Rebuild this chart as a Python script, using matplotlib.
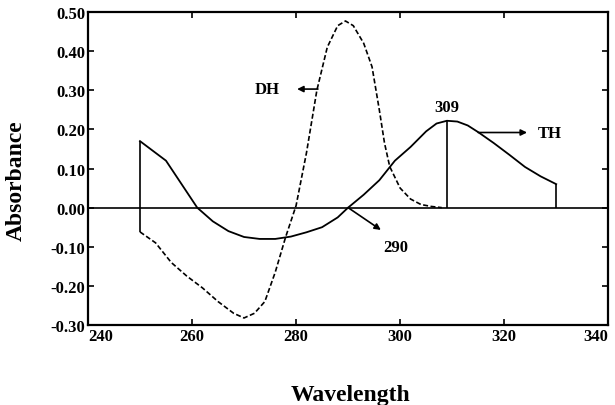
import matplotlib
matplotlib.use("Agg")
import matplotlib.pyplot as plt

plt.rcParams['font.family'] = ['Liberation Serif', 'DejaVu Serif']
plt.rcParams['font.weight'] = 'bold'

# TH curve (solid)
th_wl = [250, 252, 255, 258, 261, 264, 267, 270, 273, 276, 279, 282, 285, 288, 290,
         293, 296, 299, 302, 305, 307, 309, 311, 313, 315, 318, 321, 324, 327, 330]
th_abs = [0.17, 0.15, 0.12, 0.06, 0.00, -0.035, -0.06, -0.075, -0.08, -0.08, -0.074, -0.063,
          -0.05, -0.025, 0.00, 0.033, 0.07, 0.12, 0.155, 0.195, 0.215, 0.222, 0.22, 0.21,
          0.193, 0.165, 0.135, 0.104, 0.08, 0.06]

# DH curve (dashed)
dh_wl = [250, 253, 256, 259, 262, 265, 268, 270, 272, 274, 276, 278, 280, 282, 284, 286,
         288, 289.5, 291, 293, 294.6, 296, 297, 298, 300, 302, 304, 306, 308]
dh_abs = [-0.062, -0.09, -0.14, -0.175, -0.205, -0.24, -0.27, -0.282, -0.27, -0.24, -0.165,
          -0.075, 0.005, 0.14, 0.30, 0.41, 0.465, 0.477, 0.465, 0.42, 0.36, 0.25, 0.165,
          0.105, 0.05, 0.022, 0.008, 0.003, 0.0]

# vertical drop lines
drop_x = [250, 309, 330]
drop_lo = [-0.062, 0.0, 0.0]
drop_hi = [0.17, 0.222, 0.06]

xticks = [240, 260, 280, 300, 320, 340]
yticks = [-0.30, -0.20, -0.10, 0.00, 0.10, 0.20, 0.30, 0.40, 0.50]
ytick_labels = ['-0.30', '-0.20', '-0.10', '0.00', '0.10', '0.20', '0.30', '0.40', '0.50']

fig = plt.figure(figsize=(6.15, 4.06), dpi=100)
ax = fig.add_axes([0.143, 0.197, 0.846, 0.771])

ax.plot(th_wl, th_abs, color='black', lw=1.3)
ax.plot(dh_wl, dh_abs, color='black', lw=1.2, dashes=(3, 1.5))
ax.vlines(drop_x, drop_lo, drop_hi, color='black', lw=1.2)
ax.axhline(0, color='black', lw=1.2)

ax.set_xlim(240, 340)
ax.set_ylim(-0.30, 0.50)
ax.set_xticks(xticks)
ax.set_yticks(yticks)
ax.set_yticklabels(ytick_labels)
ax.tick_params(direction='in', length=4, width=1.2, labelsize=12, pad=2,
               top=True, right=True)
xlabels = ax.get_xticklabels()
xlabels[0].set_ha('left')
xlabels[-1].set_ha('right')
for s in ax.spines.values():
    s.set_linewidth(1.6)

ax.set_xlabel('Wavelength', fontsize=17, fontweight='bold')
ax.xaxis.set_label_coords(0.504, -0.19)
ax.set_ylabel('Absorbance', fontsize=17, fontweight='bold')
ax.yaxis.set_label_coords(-0.117, 0.463)

arrow = dict(arrowstyle='-|>', color='black', lw=1.2, mutation_scale=9, shrinkA=0, shrinkB=0)
ax.annotate('', xy=(280.2, 0.303), xytext=(284.2, 0.303), arrowprops=arrow)
ax.text(274.5, 0.303, 'DH', fontsize=12, ha='center', va='center')
ax.annotate('', xy=(324.4, 0.192), xytext=(315, 0.192), arrowprops=arrow)
ax.text(328.8, 0.19, 'TH', fontsize=12, ha='center', va='center')
ax.annotate('', xy=(296.3, -0.057), xytext=(290, 0), arrowprops=arrow)
ax.text(299.2, -0.101, '290', fontsize=12, ha='center', va='center')
ax.text(309, 0.256, '309', fontsize=12, ha='center', va='center')

fig.savefig('out.png', dpi=100)
